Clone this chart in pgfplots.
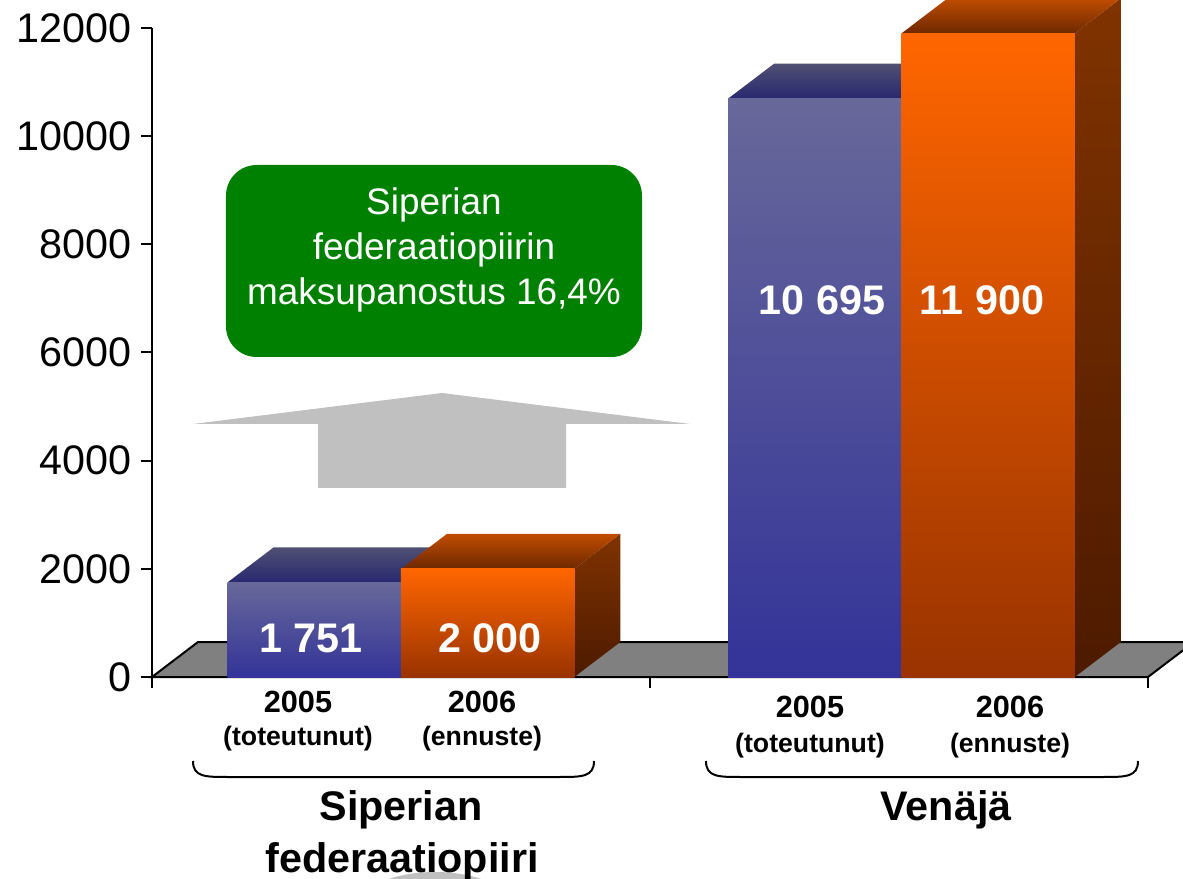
\documentclass[border=0pt]{standalone}
\usepackage{fontspec}
\setmainfont{Liberation Sans}
\usepackage{pgfplots}
\pgfplotsset{compat=1.18}
\definecolor{floorgray}{RGB}{128,128,128}
\definecolor{bFrontTop}{RGB}{104,104,154}
\definecolor{bFrontMid}{RGB}{90,90,153}
\definecolor{bFrontBot}{RGB}{51,51,153}
\definecolor{bTopBack}{RGB}{80,80,115}
\definecolor{bTopFront}{RGB}{40,40,112}
\definecolor{oFrontTop}{RGB}{255,102,0}
\definecolor{oFrontMid}{RGB}{228,90,0}
\definecolor{oFrontBot}{RGB}{153,51,0}
\definecolor{oTopBack}{RGB}{192,77,0}
\definecolor{oTopFront}{RGB}{110,40,0}
\definecolor{oSideTop}{RGB}{128,51,0}
\definecolor{oSideBot}{RGB}{77,26,0}
\definecolor{boxgreen}{RGB}{0,128,0}
\definecolor{arrowgray}{RGB}{192,192,192}
\begin{document}
\begin{tikzpicture}
\path[use as bounding box] (-114pt,-151.5pt) rectangle (773.25pt,507.75pt);
\begin{axis}[
  at={(0,0)}, anchor=south west,
  scale only axis, width=747pt, height=486.75pt,
  xmin=0, xmax=2, ymin=0, ymax=12000,
  enlargelimits=false, clip=false,
  axis lines=left, axis line style={-, line width=1.5pt},
  every tick/.style={black, line width=1.5pt},
  tick align=outside, major tick length=8pt,
  xtick={0,1,2}, xticklabels={,,},
  ytick={0,2000,4000,6000,8000,10000,12000},
  yticklabels={0,2000,4000,6000,8000,10000,12000},
  yticklabel style={font=\fontsize{31}{36}\selectfont, xshift=-4pt},
  scaled y ticks=false,
]
% floor
\addplot[fill=floorgray, draw=black, line width=1.5pt] coordinates {(0,0) (2,0) (2.0924,647) (0.0924,647)} -- cycle;
% ---- group 1: Siperian federaatiopiiri
\addplot[draw=none, top color=bTopBack, bottom color=bTopFront] coordinates {(0.152,1751) (0.5,1751) (0.5924,2398) (0.2444,2398)} -- cycle;
\addplot[ybar, bar width=0.348, bar shift=-0.174, draw=none, top color=bFrontTop, middle color=bFrontMid, bottom color=bFrontBot] coordinates {(0.5,1751)};
\addplot[draw=none, top color=oSideTop, bottom color=oSideBot] coordinates {(0.848,0) (0.848,2000) (0.9404,2647) (0.9404,647)} -- cycle;
\addplot[draw=none, top color=oTopBack, bottom color=oTopFront] coordinates {(0.5,2000) (0.848,2000) (0.9404,2647) (0.5924,2647)} -- cycle;
\addplot[ybar, bar width=0.348, bar shift=0.174, draw=none, top color=oFrontTop, middle color=oFrontMid, bottom color=oFrontBot] coordinates {(0.5,2000)};
% ---- group 2: Venaja
\addplot[draw=none, top color=bTopBack, bottom color=bTopFront] coordinates {(1.157,10695) (1.505,10695) (1.5974,11342) (1.2494,11342)} -- cycle;
\addplot[ybar, bar width=0.348, bar shift=-0.174, draw=none, top color=bFrontTop, middle color=bFrontMid, bottom color=bFrontBot] coordinates {(1.505,10695)};
\addplot[draw=none, top color=oSideTop, bottom color=oSideBot] coordinates {(1.853,0) (1.853,11900) (1.9454,12547) (1.9454,647)} -- cycle;
\addplot[draw=none, top color=oTopBack, bottom color=oTopFront] coordinates {(1.505,11900) (1.853,11900) (1.9454,12547) (1.5974,12547)} -- cycle;
\addplot[ybar, bar width=0.348, bar shift=0.174, draw=none, top color=oFrontTop, middle color=oFrontMid, bottom color=oFrontBot] coordinates {(1.505,11900)};
\end{axis}
\begin{scope}[shift={(-114pt,507.75pt)}, x=0.75pt, y=-0.75pt]
  % green box
  \fill[boxgreen, rounded corners=23pt] (226,165) rectangle (642,357);
  \begin{scope}[every node/.style={anchor=base, text=white, font=\fontsize{27.7}{34}\selectfont, inner sep=0pt}]
    \node at (434,215) {Siperian};
    \node at (434,260) {federaatiopiirin};
    \node at (434,305) {maksupanostus 16,4\%};
  \end{scope}
  % gray arrow
  \fill[arrowgray] (442,393) -- (690,424) -- (566,424) -- (566,488) -- (318,488) -- (318,424) -- (193,424) -- cycle;
  % value labels
  \begin{scope}[every node/.style={anchor=base, text=white, font=\fontsize{31}{36}\selectfont\bfseries, inner sep=0pt}]
    \node at (311,652) {1 751};
    \node at (490,652) {2 000};
    \node at (822,315) {10 695};
    \node at (982,315) {11 900};
  \end{scope}
  % category labels
  \begin{scope}[every node/.style={anchor=base, font=\fontsize{23}{28}\selectfont\bfseries, inner sep=0pt}]
    \node at (298,712) {2005};
    \node at (482,712) {2006};
    \node at (810,717) {2005};
    \node at (1010,717) {2006};
  \end{scope}
  \begin{scope}[every node/.style={anchor=base, font=\fontsize{20}{24}\selectfont\bfseries, inner sep=0pt}]
    \node at (298,745) {(toteutunut)};
    \node at (482,745) {(ennuste)};
    \node at (810,752) {(toteutunut)};
    \node at (1010,752) {(ennuste)};
  \end{scope}
  % braces
  \draw[line width=1.5pt] (193,761) .. controls (193,777) and (205,777) .. (228,777) -- (559,777) .. controls (582,777) and (594,777) .. (594,761);
  \draw[line width=1.5pt] (706,761) .. controls (706,777) and (718,777) .. (741,777) -- (1103,777) .. controls (1126,777) and (1138,777) .. (1138,761);
  % bottom gray shape
  \fill[arrowgray] (435,905) ellipse [x radius=75, y radius=33];
  % group names
  \begin{scope}[every node/.style={anchor=base, font=\fontsize{31}{36}\selectfont\bfseries, inner sep=0pt}]
    \node at (401,820) {Siperian};
    \node at (402,872) {federaatiopiiri};
    \node at (946,820) {Venäjä};
  \end{scope}
\end{scope}
\end{tikzpicture}
\end{document}
